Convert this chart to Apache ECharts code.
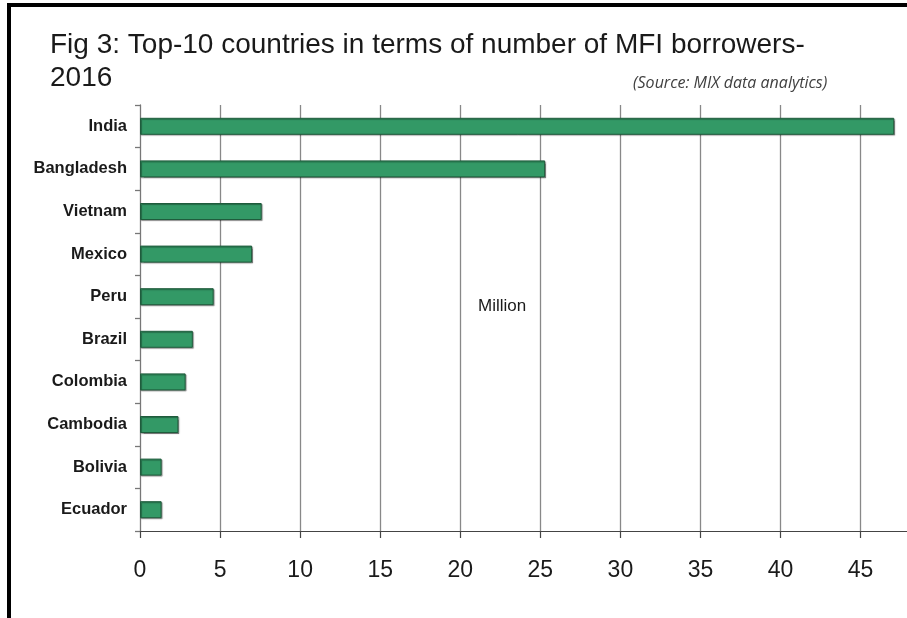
<!DOCTYPE html>
<html>
<head>
<meta charset="utf-8">
<script src="https://cdn.jsdelivr.net/npm/echarts@6/dist/echarts.min.js"></script>
<style>
  html, body { margin: 0; padding: 0; background: #fff; }
  #chart { width: 907px; height: 618px; }
</style>
</head>
<body>
<div id="chart"></div>
<script>
// Countries, ranked by number of microfinance borrowers (millions), 2016
const countries = ['India', 'Bangladesh', 'Vietnam', 'Mexico', 'Peru', 'Brazil', 'Colombia', 'Cambodia', 'Bolivia', 'Ecuador'];
const borrowers = [47.1, 25.3, 7.6, 7.0, 4.6, 3.3, 2.85, 2.4, 1.35, 1.35];
const tickStep = 5;

const titleText = 'Fig 3: Top-10 countries in terms of number of MFI borrowers-\n2016';
const sourceText = '(Source: MIX data analytics)';
const unitText = 'Million';

const chart = echarts.init(document.getElementById('chart'), null, { renderer: 'canvas' });

chart.setOption({
  backgroundColor: '#ffffff',
  animation: false,
  title: {
    text: titleText,
    left: 45,
    top: 24,
    textStyle: {
      fontFamily: 'Liberation Sans, Arial, sans-serif',
      fontSize: 28,
      fontWeight: 'normal',
      color: '#1a1a1a',
      lineHeight: 33
    }
  },
  grid: { left: 140, right: 0, top: 105, bottom: 87, containLabel: false },
  xAxis: {
    type: 'value',
    min: 0,
    max: 47.9,
    interval: tickStep,
    axisLine: { show: true, lineStyle: { color: '#444', width: 1.2 } },
    axisTick: { show: true, length: 7, lineStyle: { color: '#444', width: 1.2 } },
    axisLabel: {
      showMaxLabel: false,
      margin: 28,
      fontFamily: 'Liberation Sans, Arial, sans-serif',
      fontSize: 23,
      color: '#1a1a1a'
    },
    splitLine: { show: true, showMaxLine: false, showMinLine: false, lineStyle: { color: '#888', width: 1.3 } }
  },
  yAxis: {
    type: 'category',
    data: countries,
    inverse: true,
    axisLine: { show: true, lineStyle: { color: '#777', width: 1.3 } },
    axisTick: { show: true, length: 5, alignWithLabel: false, lineStyle: { color: '#777', width: 1.3 } },
    axisLabel: {
      margin: 13,
      fontFamily: 'Liberation Sans, Arial, sans-serif',
      fontSize: 16.5,
      fontWeight: 'bold',
      color: '#1a1a1a'
    }
  },
  series: [{
    type: 'bar',
    data: borrowers,
    barWidth: 17,
    itemStyle: {
      color: '#339966',
      borderColor: '#1f5c3c',
      borderWidth: 1,
      shadowColor: 'rgba(0,0,0,0.35)',
      shadowOffsetX: 1,
      shadowOffsetY: 1,
      shadowBlur: 1
    }
  }],
  graphic: [
    { type: 'rect', shape: { x: 7, y: 3, width: 900, height: 4 }, style: { fill: '#000' }, z: 100 },
    { type: 'rect', shape: { x: 7, y: 3, width: 4, height: 615 }, style: { fill: '#000' }, z: 100 },
    {
      type: 'text', left: 633, top: 75,
      style: {
        text: sourceText,
        font: 'italic 16px "Open Sans", Lato, sans-serif',
        fill: '#404040'
      }
    },
    {
      type: 'text', left: 478, top: 298,
      style: {
        text: unitText,
        font: '17px "Liberation Sans", Arial, sans-serif',
        fill: '#1a1a1a'
      }
    }
  ]
});
</script>
</body>
</html>
